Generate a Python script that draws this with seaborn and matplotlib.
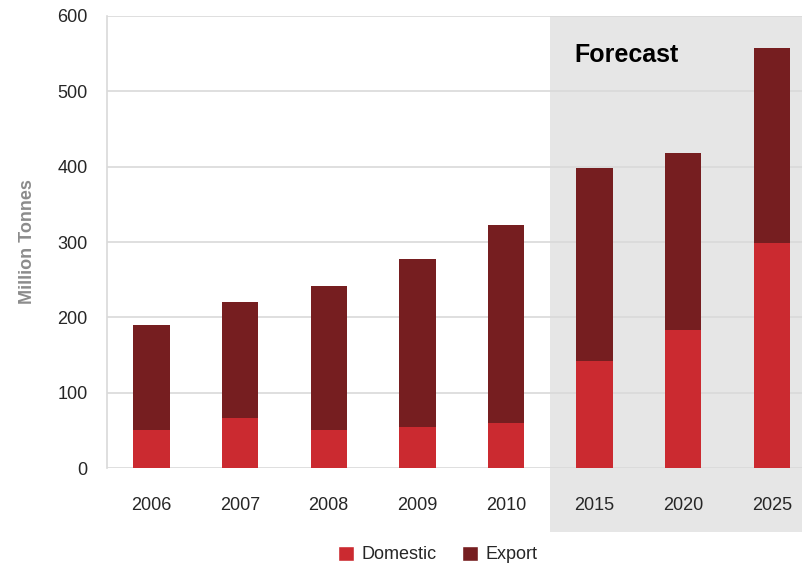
import pandas as pd
import matplotlib.pyplot as plt
import matplotlib.transforms as mtransforms
from matplotlib.patches import Rectangle, Patch
import seaborn as sns

# values (million tonnes)
years = ['2006', '2007', '2008', '2009', '2010', '2015', '2020', '2025']
domestic = [50, 66, 50, 54, 60, 142, 183, 299]
export = [140, 154, 192, 224, 263, 256, 235, 258]
y_ticks = [0, 100, 200, 300, 400, 500, 600]

total = [d + e for d, e in zip(domestic, export)]
df = pd.DataFrame({'year': years, 'domestic': domestic, 'total': total})

sns.set_style('white')
plt.rcParams['font.family'] = ['Liberation Sans', 'DejaVu Sans']

dom_color = '#cb2a30'
exp_color = '#761e20'

fig = plt.figure(figsize=(8.03, 5.63), dpi=100)
ax = fig.add_axes([0.1333, 0.1687, 0.8667, 0.8029])

# stacked bars: total (export on top) then domestic over it
sns.barplot(data=df, x='year', y='total', color=exp_color, width=0.41,
            saturation=1, linewidth=0, ax=ax, zorder=2)
sns.barplot(data=df, x='year', y='domestic', color=dom_color, width=0.41,
            saturation=1, linewidth=0, ax=ax, zorder=3)

ax.set_xlim(-0.5, 7.35)
ax.set_ylim(0, 600)
ax.set_yticks(y_ticks)

# grey forecast panel, running down behind the tick labels
trans = mtransforms.blended_transform_factory(ax.transData, ax.transAxes)
ax.add_patch(Rectangle((4.5, -0.142), 3.0, 1.142, transform=trans,
                       facecolor='#e6e6e6', edgecolor='none', clip_on=False, zorder=0.2))
ax.text(4.77, 548, 'Forecast', fontsize=18, fontweight='bold', color='black',
        va='center', zorder=4)

ax.set_axisbelow(True)
ax.grid(axis='y', color='#d9d9d9', linewidth=1.2)
for side in ['top', 'right', 'bottom']:
    ax.spines[side].set_visible(False)
ax.spines['left'].set_color('#d9d9d9')
ax.spines['left'].set_linewidth(1.2)

ax.tick_params(axis='y', length=4, color='#d9d9d9', labelsize=13, labelcolor='#262626', pad=10)
ax.tick_params(axis='x', which='major', length=0, labelsize=13, labelcolor='#262626', pad=21)
ax.set_xticks([i + 0.5 for i in range(7)], minor=True)
ax.tick_params(axis='x', which='minor', length=4, color='#d9d9d9', width=1.2)

ax.set_xlabel('')
ax.set_ylabel('Million Tonnes', fontsize=13, fontweight='bold', color='#8c8c8c', labelpad=15)

handles = [Patch(facecolor=dom_color, label='Domestic'),
           Patch(facecolor=exp_color, label='Export')]
fig.legend(handles=handles, loc='center', bbox_to_anchor=(0.545, 0.015), ncol=2,
           frameon=False, fontsize=13, handlelength=0.9, handleheight=0.9,
           handletextpad=0.4, columnspacing=1.4)

fig.savefig('out.png', dpi=100)
